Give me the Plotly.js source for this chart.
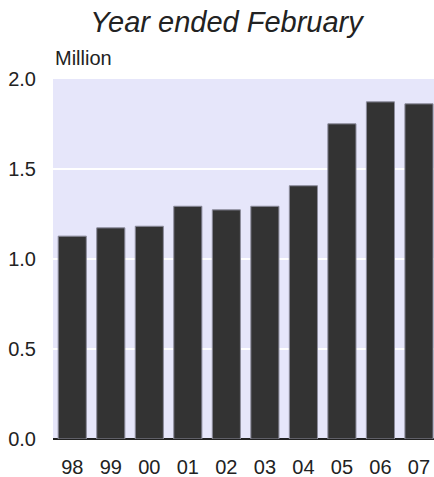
<!DOCTYPE html>
<html>
<head>
<meta charset="utf-8">
<script src="https://cdn.plot.ly/plotly-3.0.1.min.js"></script>
<style>html,body{margin:0;padding:0;overflow:hidden;background:#fff;}#chart{width:434px;height:477px;}</style>
</head>
<body>
<div id="chart"></div>
<script>
const categories = ["98","99","00","01","02","03","04","05","06","07"];
const values = [1.127, 1.173, 1.182, 1.293, 1.273, 1.293, 1.407, 1.751, 1.873, 1.862];
const yTickVals = [0, 0.5, 1.0, 1.5, 2.0];
const yTickText = ["0.0", "0.5", "1.0", "1.5", "2.0"];

const trace = {
  type: 'bar',
  x: categories,
  y: values,
  marker: {color: '#333333', line: {color: '#8c8c9c', width: 1}},
  hoverinfo: 'skip'
};

const layout = {
  width: 434, height: 477,
  margin: {l: 53, r: 0, t: 79, b: 38, pad: 0},
  paper_bgcolor: '#ffffff',
  plot_bgcolor: '#e6e6fa',
  font: {family: 'Liberation Sans, Arial, sans-serif', size: 20, color: '#222222'},
  showlegend: false,
  bargap: 0.27,
  title: {
    text: 'Year ended February',
    font: {family: 'Liberation Sans, Arial, sans-serif', size: 29, color: '#222222', style: 'italic'},
    xref: 'container', yref: 'container',
    x: 0.522, xanchor: 'center',
    y: 1 - 22/477, yanchor: 'middle'
  },
  xaxis: {
    type: 'category',
    range: [-0.5, 9.39],
    showgrid: false,
    ticks: '',
    ticklabelstandoff: 14,
    tickfont: {size: 20, color: '#222222'},
    showline: false,
    zeroline: false,
    fixedrange: true
  },
  yaxis: {
    range: [0, 2.0],
    tickvals: yTickVals,
    ticktext: yTickText,
    showgrid: true,
    gridcolor: '#ffffff',
    gridwidth: 2,
    zeroline: true,
    zerolinecolor: '#222222',
    zerolinewidth: 2,
    ticks: '',
    ticklabelstandoff: 16,
    tickfont: {size: 20, color: '#222222'},
    showline: false,
    fixedrange: true
  },
  annotations: [{
    text: 'Million',
    xref: 'paper', yref: 'paper',
    x: 0, y: 1, xanchor: 'left', yanchor: 'bottom',
    yshift: 8,
    showarrow: false,
    font: {size: 20, color: '#222222'}
  }]
};

Plotly.newPlot('chart', [trace], layout, {displayModeBar: false, staticPlot: true});
</script>
</body>
</html>
